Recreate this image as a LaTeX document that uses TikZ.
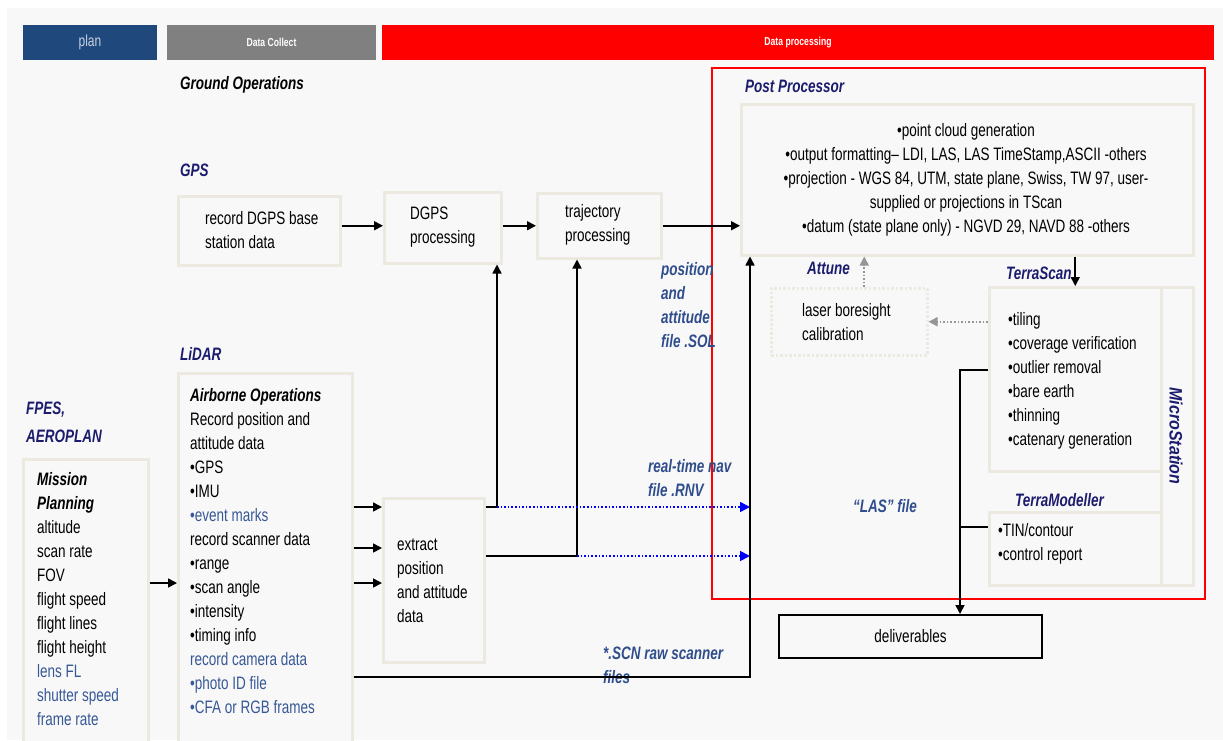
\documentclass[tikz,border=0pt]{standalone}
\usepackage{fontspec}
\setmainfont{Liberation Sans}[FakeStretch=0.75]
\newfontfamily\msfont{Liberation Sans}[FakeStretch=0.89]
\usepackage{tikz}
\usetikzlibrary{arrows.meta,positioning,calc}
\usepackage{xcolor}
\definecolor{pagebg}{RGB}{248,248,248}
\definecolor{beige}{RGB}{236,234,224}
\definecolor{plannavy}{RGB}{31,73,125}
\definecolor{plantxt}{RGB}{200,208,224}
\definecolor{hdrgray}{RGB}{128,128,128}
\definecolor{lblnavy}{RGB}{28,28,110}
\definecolor{lblblue}{RGB}{47,77,140}
\definecolor{itemblue}{RGB}{55,88,150}
\definecolor{hintgray}{RGB}{150,150,150}
\newcommand\bodyfont{\fontsize{18}{24}\selectfont}
\newcommand\bi[1]{{\bfseries\itshape #1}}
\newcommand\itm[1]{{\color{itemblue}#1}}
\tikzset{
    hdr/.style={rectangle, fill=#1, minimum height=35pt, inner sep=0pt,
                text=white, font=\fontsize{11.5}{14}\selectfont\bfseries},
    pbox/.style={rectangle, draw=beige, line width=2.5pt, fill=pagebg,
                 inner sep=0pt, anchor=north west},
    txt/.style={font=\bodyfont, align=left, inner sep=0pt, anchor=west},
    lbl/.style={font=\bodyfont\bfseries\itshape, text=lblnavy, align=left,
                inner sep=0pt, anchor=west},
    slbl/.style={lbl, text=lblblue},
    arr/.style={-{Triangle[length=9pt,width=9pt]}, line width=1.6pt},
    dotarr/.style={-{Triangle[length=10pt,width=10pt]}, line width=1.6pt,
                   blue, dotted},
    hintarr/.style={-{Triangle[length=9pt,width=9pt]}, line width=1.6pt,
                    hintgray, dotted},
}
\begin{document}
\begin{tikzpicture}[x=1pt, y=-1pt]
    \useasboundingbox (0,0) rectangle (1223,740);
    \fill[pagebg] (7,8) rectangle (1223,740);

    % phase bar
    \node[hdr=plannavy, minimum width=134pt, text=plantxt,
          font=\fontsize{16}{18}\selectfont] (plan) at (90,42.5) {plan};
    \node[hdr=hdrgray, minimum width=209pt] (collect) at (271.5,42.5) {Data Collect};
    \node[hdr=red, minimum width=832pt] (proc) at (798,42.5) {Data processing};

    % post processing frame
    \node[draw=red, line width=1.5pt, inner sep=0pt, anchor=north west,
          minimum width=493pt, minimum height=531pt] (ppframe) at (711,67) {};

    \node[lbl, text=black] (ground) at (180,85) {Ground Operations};
    \node[lbl] (gps) at (180,170) {GPS};
    \node[lbl] (lidar) at (180,354) {LiDAR};
    \node[lbl, font=\fontsize{18}{28}\selectfont\bfseries\itshape] (fpes) at (26,422) {FPES,\\AEROPLAN};
    \node[lbl] (post) at (745,86) {Post Processor};
    \node[lbl] (attune) at (807,268) {Attune};
    \node[lbl] (tscan) at (1006,273) {TerraScan};
    \node[lbl] (tmod) at (1015,500) {TerraModeller};

    % boxes
    \node[pbox, minimum width=452pt, minimum height=151pt] (pp) at (740,103) {};
    \node[pbox, minimum width=162pt, minimum height=69pt] (rec) at (177,195) {};
    \node[pbox, minimum width=117pt, minimum height=71pt] (dgps) at (383,191) {};
    \node[pbox, minimum width=124pt, minimum height=65pt] (traj) at (536,192) {};
    \node[pbox, minimum width=174pt, minimum height=378pt] (air) at (177,372) {};
    \node[pbox, minimum width=125pt, minimum height=292pt] (mp) at (22,458) {};
    \node[pbox, minimum width=101pt, minimum height=164pt] (ext) at (382,497) {};
    \node[pbox, dotted, minimum width=156pt, minimum height=67pt] (laser) at (770,287) {};
    \node[pbox, minimum width=32pt, minimum height=298pt] (ms) at (1160,286) {};
    \node[pbox, minimum width=172pt, minimum height=184pt] (ts) at (988,286) {};
    \node[pbox, minimum width=172pt, minimum height=73pt] (tm) at (988,511) {};
    \node[rectangle, draw, line width=2pt, minimum width=263pt, minimum height=43pt,
          anchor=north west, font=\bodyfont] (del) at (778,614) {deliverables};

    % box texts
    \node[txt, align=center, anchor=center] (ppt) at (966,180) {%
        •point cloud  generation\\
        •output formatting– LDI, LAS, LAS TimeStamp,ASCII -others\\
        •projection - WGS 84, UTM, state plane, Swiss, TW 97, user-\\
        supplied or projections in TScan\\
        •datum (state plane only) - NGVD 29, NAVD 88 -others};
    \node[txt] (rect) at (205,230.5) {record DGPS base\\station data};
    \node[txt] (dgpst) at (410,227) {DGPS\\processing};
    \node[txt] (trajt) at (565,225) {trajectory\\processing};
    \node[txt] (airt) at (190,551) {%
        \bi{Airborne Operations}\\
        Record position  and\\
        attitude data\\
        •GPS\\
        •IMU\\
        \itm{•event marks}\\
        record scanner  data\\
        •range\\
        •scan angle\\
        •intensity\\
        •timing info\\
        \itm{record camera  data}\\
        \itm{•photo ID file}\\
        \itm{•CFA or RGB frames}};
    \node[txt] (mpt) at (37,599.5) {%
        \bi{Mission}\\
        \bi{Planning}\\
        altitude\\
        scan rate\\
        FOV\\
        flight speed\\
        flight lines\\
        flight height\\
        \itm{lens FL}\\
        \itm{shutter speed}\\
        \itm{frame rate}};
    \node[txt] (extt) at (397,580.5) {extract\\position\\and attitude\\data};
    \node[txt] (lasert) at (802,322.5) {laser boresight\\calibration};
    \node[txt] (tst) at (1008,381) {%
        •tiling\\
        •coverage verification\\
        •outlier removal\\
        •bare earth\\
        •thinning\\
        •catenary generation};
    \node[txt] (tmt) at (998,544) {•TIN/contour\\•control report};
    \node[lbl, anchor=center, rotate=-90,
          font=\msfont\fontsize{18}{24}\selectfont\bfseries\itshape] (mst) at (1176,436) {MicroStation};

    % file labels
    \node[slbl] (sol) at (661,305.5) {position\\and\\attitude\\file .SOL};
    \node[slbl] (rnv) at (648,478.5) {real-time nav\\file .RNV};
    \node[slbl, anchor=center] (las) at (885,506) {“LAS” file};
    \node[slbl] (scn) at (603,665.5) {*.SCN raw scanner\\files};

    % bends
    \coordinate (r1) at (0,507);
    \coordinate (r2) at (0,548);
    \coordinate (r3) at (0,583);
    \coordinate (k1) at (497,507);
    \coordinate (k2) at (577,556);
    \coordinate (s1) at (750,677);
    \coordinate (k3) at (960,370);
    \coordinate (k4) at (960,527);

    % ground chain
    \draw[arr] (rec.east |- traj) -- (dgps.west |- traj);
    \draw[arr] (dgps.east |- traj) -- (traj.west);
    \draw[arr] (traj.east) -- (traj.east -| pp.west);

    % airborne chain
    \draw[arr] (mp.east |- r3) -- (air.west |- r3);
    \foreach \r in {r1,r2,r3}
        \draw[arr] (air.east |- \r) -- (ext.west |- \r);
    \draw[arr] (ext.east |- k1) -- (k1) -- (k1 |- dgps.south);
    \draw[arr] (ext.east |- k2) -- (k2) -- (k2 |- traj.south);
    \draw[dotarr] (k1) -- (k1 -| s1);
    \draw[dotarr] (k2) -- (k2 -| s1);
    \draw[arr] (air.east |- s1) -- (s1) -- (s1 |- pp.south);

    % post processing
    \draw[arr] (ts.north |- pp.south) -- (ts.north);
    \draw[hintarr] (ts.west |- laser) -- (laser.east);
    \draw[hintarr] ([xshift=15pt]laser.north) -- ([xshift=15pt]laser.north |- pp.south);
    \draw[arr] (ts.west |- k3) -- (k3) -- (k3 |- del.north);
    \draw[line width=1.6pt] (tm.west |- k4) -- (k4);
\end{tikzpicture}
\end{document}
